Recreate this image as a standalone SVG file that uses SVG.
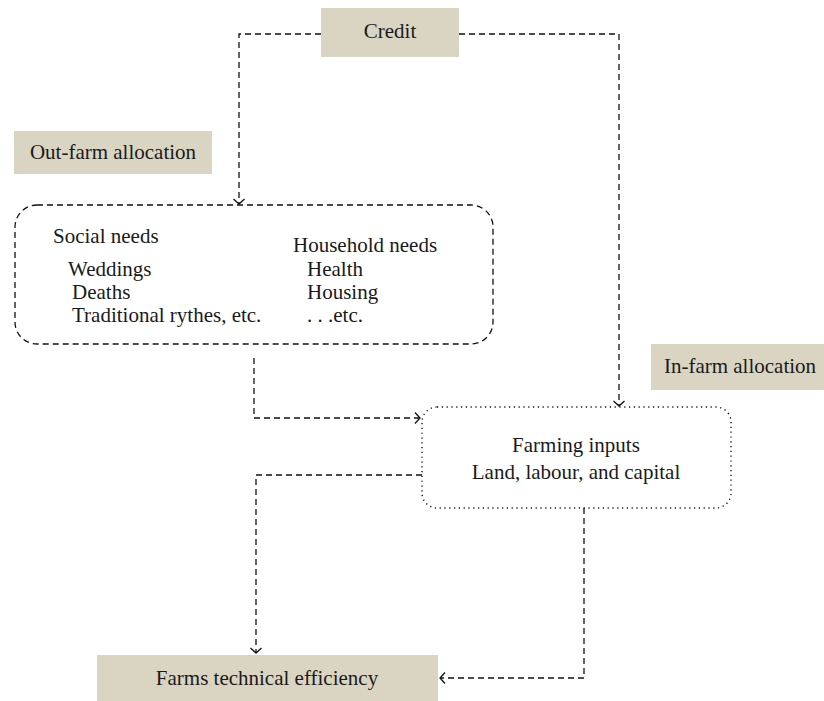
<svg xmlns="http://www.w3.org/2000/svg" width="824" height="701" viewBox="0 0 824 701">
<style>
.t{font-family:"Liberation Serif","Times New Roman",serif;font-size:21px;fill:#1a1a1a}
.tan{fill:#dad5c2;stroke:none}
.dash{fill:none;stroke:#111;stroke-width:1.3;stroke-dasharray:6 4}
.dot{fill:none;stroke:#111;stroke-width:1.4;stroke-dasharray:1.2 3.6}
</style>
<defs>
<marker id="arr" markerUnits="userSpaceOnUse" markerWidth="12" markerHeight="12" viewBox="0 0 12 12" refX="6" refY="6" orient="auto">
<path d="M1,0.5 L6,6 L1,11.5" fill="none" stroke="#111" stroke-width="1.3"/>
</marker>
</defs>
<g id="connectors">
<path class="dash" d="M321,34 H239 V204" marker-end="url(#arr)"/>
<path class="dash" d="M459,34 H619 V406" marker-end="url(#arr)"/>
<path class="dash" d="M254,358 V418 H420" marker-end="url(#arr)"/>
<path class="dash" d="M422,475 H256 V653" marker-end="url(#arr)"/>
<path class="dash" d="M584,508 V678 H440" marker-end="url(#arr)"/>
</g>
<g id="credit">
<rect class="tan" x="321" y="8" width="138" height="49"/>
<text class="t" x="390" y="38" text-anchor="middle">Credit</text>
</g>
<g id="out-farm">
<rect class="tan" x="14" y="131" width="198" height="43"/>
<text class="t" x="113" y="159" text-anchor="middle">Out-farm allocation</text>
</g>
<g id="needs">
<rect class="dash" x="15" y="205" width="478" height="139" rx="22" ry="22"/>
<text class="t" x="53" y="243">Social needs</text>
<text class="t" x="68" y="276">Weddings</text>
<text class="t" x="72" y="299">Deaths</text>
<text class="t" x="72" y="322">Traditional rythes, etc.</text>
<text class="t" x="293" y="252">Household needs</text>
<text class="t" x="307" y="276">Health</text>
<text class="t" x="307" y="299">Housing</text>
<text class="t" x="307" y="322">. . .etc.</text>
</g>
<g id="in-farm">
<rect class="tan" x="651" y="344" width="173" height="46"/>
<text class="t" x="740" y="373" text-anchor="middle">In-farm allocation</text>
</g>
<g id="farming">
<rect class="dot" x="422" y="407" width="309" height="101" rx="15" ry="15"/>
<text class="t" x="576" y="452" text-anchor="middle">Farming inputs</text>
<text class="t" x="576" y="479" text-anchor="middle">Land, labour, and capital</text>
</g>
<g id="efficiency">
<rect class="tan" x="97" y="655" width="341" height="46"/>
<text class="t" x="267" y="685" text-anchor="middle">Farms technical efficiency</text>
</g>
</svg>
